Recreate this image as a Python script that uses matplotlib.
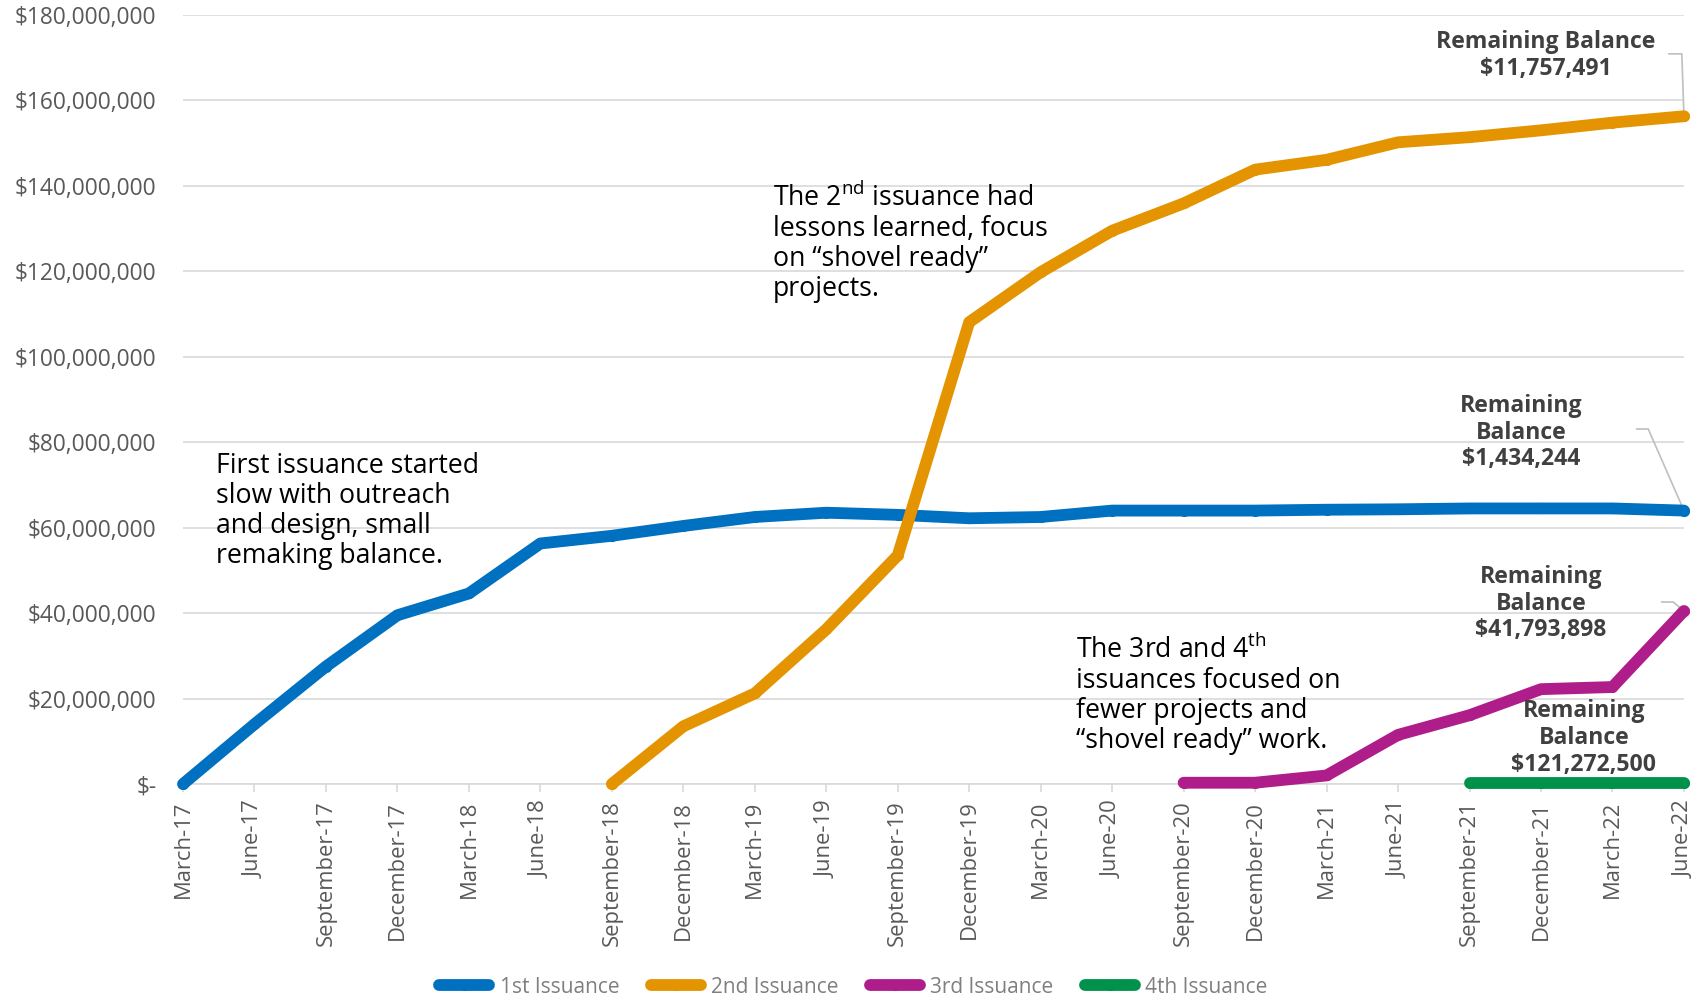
import matplotlib
matplotlib.use("Agg")
from matplotlib import pyplot as plt
import numpy as np

plt.rcParams['font.family'] = ['Open Sans', 'DejaVu Sans']
plt.rcParams['mathtext.fontset'] = 'custom'
plt.rcParams['mathtext.rm'] = 'Open Sans'
plt.rcParams['mathtext.it'] = 'Open Sans:italic'

quarters = ['March-17', 'June-17', 'September-17', 'December-17',
            'March-18', 'June-18', 'September-18', 'December-18',
            'March-19', 'June-19', 'September-19', 'December-19',
            'March-20', 'June-20', 'September-20', 'December-20',
            'March-21', 'June-21', 'September-21', 'December-21',
            'March-22', 'June-22']

nan = np.nan
# cumulative amounts, $ millions
issue1 = [0, 14.0, 27.5, 39.5, 44.6, 56.3, 58.1, 60.4, 62.5, 63.5, 63.0,
          62.2, 62.5, 64.0, 64.0, 64.0, 64.2, 64.3, 64.5, 64.5, 64.5, 64.0]
issue2 = [nan, nan, nan, nan, nan, nan, 0, 13.5, 21.2, 36.2, 53.5,
          108.1, 119.8, 129.5, 135.9, 143.8, 146.1, 150.2, 151.4, 153.0, 154.8, 156.3]
issue3 = [nan] * 14 + [0.3, 0.3, 2.0, 11.5, 16.1, 22.2, 22.7, 40.5]
issue4 = [nan] * 18 + [0.3, 0.3, 0.3, 0.3]

series_names = ['1st Issuance', '2nd Issuance', '3rd Issuance', '4th Issuance']
series_colors = ['#0070C0', '#E39400', '#AE1D89', '#00914A']
balances = ['$11,757,491', '$1,434,244', '$41,793,898', '$121,272,500']

fig = plt.figure(figsize=(17.07, 9.99), dpi=100)
ax = fig.add_axes([0.1072, 0.2152, 0.8793, 0.7698])

x = np.arange(len(quarters))
lines = []
for vals, name, col in zip([issue1, issue2, issue3, issue4], series_names, series_colors):
    v = np.array(vals, dtype=float) * 1e6
    ln, = ax.plot(x, v, color=col, lw=8.5, marker='o', markersize=7,
                  solid_capstyle='round', solid_joinstyle='round',
                  clip_on=False, label=name, zorder=3)
    lines.append(ln)

ax.set_xlim(0, len(quarters) - 1)
ax.set_ylim(0, 180e6)
ax.set_yticks(np.arange(0, 180e6 + 1, 20e6))
ax.set_yticklabels(['$-'] + ['${:,.0f}'.format(t) for t in np.arange(20e6, 180e6 + 1, 20e6)])
ax.set_xticks(x)
ax.set_xticklabels(quarters, rotation=90, va='top', ha='center')

ax.grid(axis='y', color='#D9D9D9', lw=1.2)
ax.set_axisbelow(True)
for s in ['top', 'right', 'left']:
    ax.spines[s].set_visible(False)
ax.spines['bottom'].set_color('#D9D9D9')
ax.spines['bottom'].set_linewidth(1.2)
ax.tick_params(axis='y', length=0, pad=19, labelsize=16.4, labelcolor='#595959')
ax.tick_params(axis='x', length=6, width=1.2, color='#D9D9D9', pad=6,
               labelsize=15.8, labelcolor='#595959')

# commentary
note_kw = dict(fontsize=19.2, color='black', va='top', ha='left', linespacing=1.1)
ax.text(0.46, 77.8e6, 'First issuance started\nslow with outreach\nand design, small\nremaking balance.', **note_kw)
ax.text(8.25, 140.5e6, 'The 2$^{\\mathrm{nd}}$ issuance had\nlessons learned, focus\non \u201cshovel ready\u201d\nprojects.', **note_kw)
ax.text(12.5, 34.8e6, 'The 3rd and 4$^{\\mathrm{th}}$\nissuances focused on\nfewer projects and\n\u201cshovel ready\u201d work.', **note_kw)

# remaining balance labels
lab_kw = dict(fontsize=16.6, fontweight='bold', color='#404040', va='top', ha='center', linespacing=1.15)
ax.text(19.07, 176.5e6, 'Remaining Balance\n' + balances[0], **lab_kw)
ax.text(18.72, 91.3e6, 'Remaining\nBalance\n' + balances[1], **lab_kw)
ax.text(19.0, 51.3e6, 'Remaining\nBalance\n' + balances[2], **lab_kw)
ax.text(19.6, 19.8e6, 'Remaining\nBalance\n' + balances[3], **lab_kw)

# leader lines
lead_kw = dict(color='#BFBFBF', lw=1.2, zorder=2, clip_on=False)
last = len(quarters) - 1
ax.plot([20.79, 20.97, last], [170.9e6, 170.9e6, issue2[-1] * 1e6], **lead_kw)
ax.plot([20.34, 20.5, last], [83.1e6, 83.1e6, issue1[-1] * 1e6], **lead_kw)
ax.plot([20.69, 20.85, last], [42.6e6, 42.6e6, issue3[-1] * 1e6], **lead_kw)

fig.legend(handles=lines, loc='center', bbox_to_anchor=(0.5, 0.012), ncol=4,
           frameon=False, fontsize=15, labelcolor='#7F7F7F', handlelength=2.4,
           handletextpad=0.5, columnspacing=1.5)

fig.savefig('out.png', dpi=100)
